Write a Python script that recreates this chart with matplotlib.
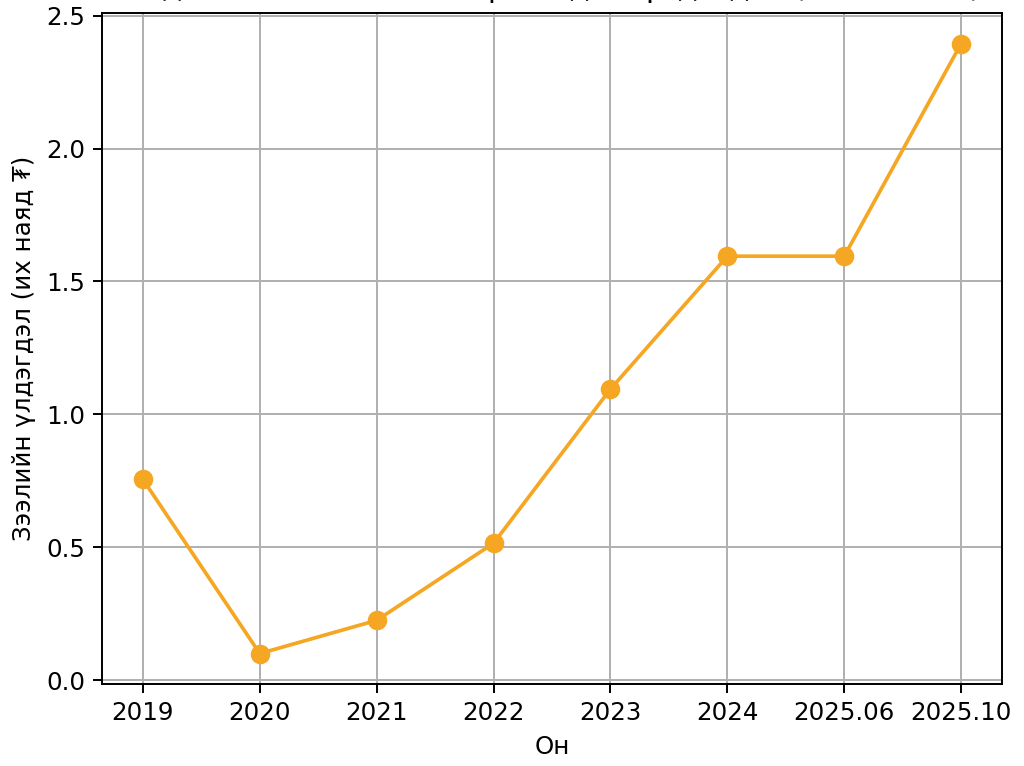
import matplotlib
matplotlib.use("Agg")
import matplotlib.pyplot as plt

# Зээлийн үлдэгдэл, их наяд төгрөг
years = ["2019", "2020", "2021", "2022", "2023", "2024", "2025.06", "2025.10"]
balance = [0.755, 0.10, 0.225, 0.515, 1.095, 1.595, 1.595, 2.395]

title = "Хадгаламж, зээлийн хоршоодын үлдэгдэл (2019–2025)"
line_color = "#f5a623"

fig = plt.figure(figsize=(1024 / 176, 766 / 176), dpi=176)
ax = fig.add_axes([0.0996, 0.107, 0.879, 0.876])

ax.plot(years, balance, "-o", color=line_color, linewidth=1.5, markersize=7)
# гарчиг зургийн дээд ирмэгээр тасарсан
ax.set_title(title, pad=6.5)
ax.set_xlabel("Он")
ax.set_ylabel("Зээлийн үлдэгдэл (их наяд ₮)")
ax.grid(True)

plt.savefig("out.png", dpi=176)
